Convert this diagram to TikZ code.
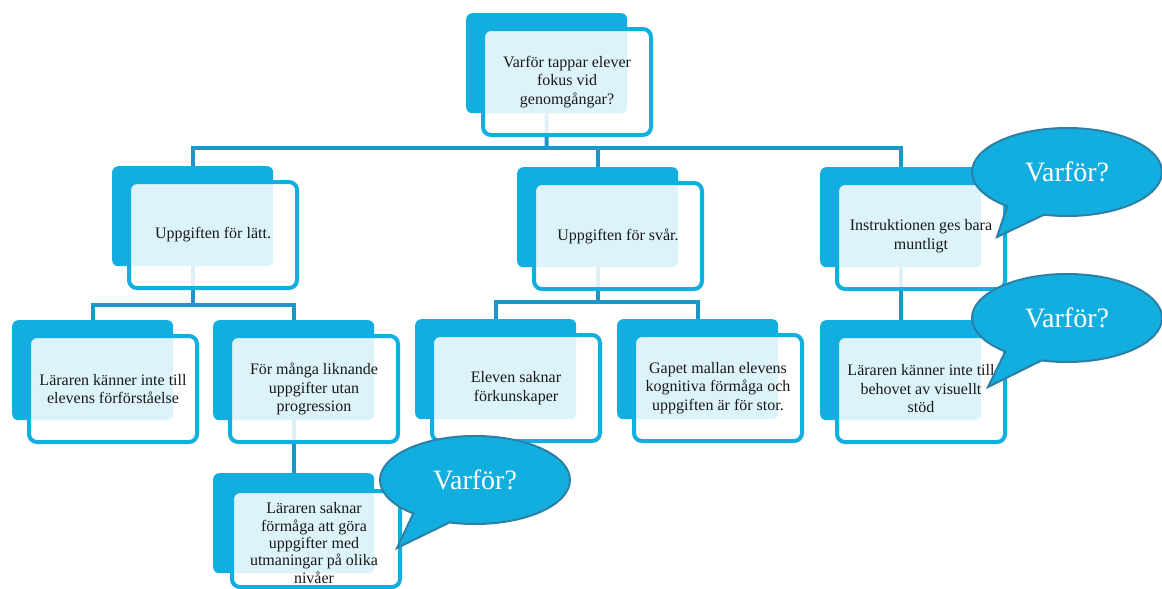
\documentclass[tikz,border=0pt]{standalone}
\usepackage{fontspec}
\setmainfont{Liberation Serif}
\usetikzlibrary{shapes.callouts,calc}
\definecolor{boxblue}{RGB}{18,174,224}
\definecolor{lineblue}{RGB}{30,150,200}
\definecolor{bubbleedge}{RGB}{44,128,168}
\definecolor{txt}{RGB}{25,25,25}
\pgfdeclarelayer{bg}
\pgfsetlayers{bg,main}
\tikzset{
 backbox/.style={rectangle, rounded corners=6pt, fill=boxblue, minimum width=161pt, minimum height=100pt, inner sep=0pt, anchor=north west},
 frontbox/.style={rectangle, rounded corners=8pt, draw=boxblue, line width=4pt, fill=white, fill opacity=0.86, text opacity=1, minimum width=168pt, minimum height=106pt, inner sep=0pt, anchor=north west, align=center, text=txt, font=\fontsize{16}{18.5}\selectfont},
 boxtext/.style={inner sep=0pt, align=center, text=txt, font=\fontsize{16}{17.4}\selectfont},
 conn/.style={draw=lineblue, line width=4pt},
 bubble/.style={ellipse callout, fill=boxblue, draw=bubbleedge, line width=2pt, minimum width=190pt, minimum height=88pt, inner sep=0pt, callout pointer arc=25, text=white, font=\fontsize{28}{30}\selectfont},
}
\begin{document}
\begin{tikzpicture}[x=1pt,y=-1pt]
\useasboundingbox (0,0) rectangle (1162,589);
% top
\node[backbox] (topB) at (466,13) {};
\node[frontbox] (topF) at (481,27) {Varför tappar elever\\fokus vid\\genomgångar?};
% level 1
\node[backbox] (L1aB) at (112,166) {};
\node[frontbox] (L1aF) at (127,180) {Uppgiften för lätt.};
\node[backbox] (L1bB) at (517,167) {};
\node[frontbox] (L1bF) at (532,181) {Uppgiften för svår.};
\node[backbox] (L1cB) at (820,167) {};
\node[frontbox] (L1cF) at (835,181) {Instruktionen ges bara\\muntligt};
% level 2
\node[backbox] (L2aB) at (12,320) {};
\node[frontbox] (L2aF) at (27,334) {Läraren känner inte till\\elevens förförståelse};
\node[backbox] (L2bB) at (213,320) {};
\node[frontbox] (L2bF) at (228,334) {För många liknande\\uppgifter utan\\progression};
\node[backbox] (L2cB) at (415,319) {};
\node[frontbox] (L2cF) at (430,333) {Eleven saknar\\förkunskaper};
\node[backbox] (L2dB) at (617,319) {};
\node[frontbox] (L2dF) at (632,333) {Gapet mallan elevens\\kognitiva förmåga och\\uppgiften är för stor.};
\node[backbox] (L2eB) at (820,320) {};
\node[frontbox] (L2eF) at (835,334) {Läraren känner inte till\\behovet av visuellt\\stöd};
% level 3
\node[backbox] (L3B) at (213,473) {};
\node[frontbox, minimum height=96pt] (L3F) at (230,489) {};
\node[boxtext] (L3T) at (314,543) {Läraren saknar\\förmåga att göra\\uppgifter med\\utmaningar på olika\\nivåer};
% connectors
\coordinate (j0) at (546.5,148);
\coordinate (j1) at (0,305);
\coordinate (j2) at (0,302);
\begin{pgfonlayer}{bg}
\draw[conn] (topB.south) -- (j0);
\draw[conn] (L1aB.north) -- (L1aB.north |- j0) -- (L1cB.north |- j0) -- (L1cB.north);
\draw[conn] (L1bB.north) -- (L1bB.north |- j0);
\draw[conn] (L1aB.south) -- (L1aB.south |- j1);
\draw[conn] (L2aB.north) -- (L2aB.north |- j1) -- (L2bB.north |- j1) -- (L2bB.north);
\draw[conn] (L1bB.south) -- (L1bB.south |- j2);
\draw[conn] (L2cB.north) -- (L2cB.north |- j2) -- (L2dB.north |- j2) -- (L2dB.north);
\draw[conn] (L1cB.south) -- (L2eB.north);
\draw[conn] (L2bB.south) -- (L3B.north);
\end{pgfonlayer}
% bubbles
\coordinate (t1) at (997,237);
\coordinate (t2) at (988,387);
\coordinate (t3) at (397,548);
\node[bubble, callout absolute pointer={(t1)}] (q1) at (1067,172) {Varför?};
\node[bubble, callout absolute pointer={(t2)}] (q2) at (1067,318) {Varför?};
\node[bubble, callout absolute pointer={(t3)}] (q3) at (475,480) {Varför?};
\end{tikzpicture}
\end{document}
